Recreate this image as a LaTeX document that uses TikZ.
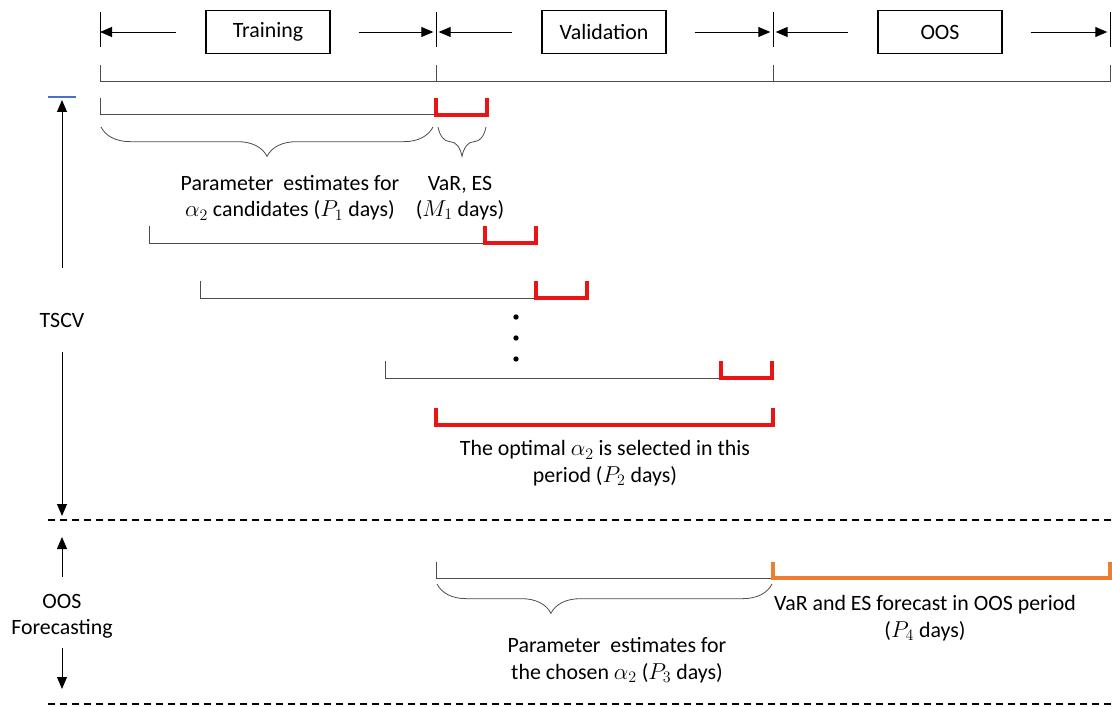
\documentclass[tikz,border=0pt]{standalone}
\usepackage{fontspec}
\setmainfont{Carlito}
\usetikzlibrary{arrows.meta,decorations.pathreplacing}
\definecolor{testred}{RGB}{235,20,20}
\definecolor{oosorange}{RGB}{237,125,49}
\definecolor{markblue}{RGB}{68,114,196}

\begin{document}
\begin{tikzpicture}[x=0.75pt,y=-0.75pt,
    every node/.style={font=\fontsize{16.4}{19.8}\selectfont},
    phase/.style={draw, line width=0.8pt, minimum width=93pt, minimum height=32pt},
    span/.style={-{Triangle[length=9pt,width=7.5pt]}, line width=0.7pt},
    window/.style={line width=0.75pt, black!70},
    test/.style={line width=2.6pt, testred},
    oos/.style={line width=2.6pt, oosorange},
    curly/.style={decorate, decoration={brace, mirror, amplitude=22pt}, line width=0.6pt, black!70},
    cut/.style={line width=1pt, dash pattern=on 5pt off 4pt}]
   \useasboundingbox (0,0) rectangle (1112,706);

   % period boundaries
   \coordinate (b0) at (100,82);
   \coordinate (b1) at (436,82);
   \coordinate (b2) at (773,82);
   \coordinate (b3) at (1110,82);
   \foreach \x in {100,436,773,1110} {
      \draw[line width=0.7pt] (\x,12) -- (\x,47);
      \draw[window] (\x,65) -- (\x,82);
   }
   \draw[window] (b0) -- (b3);

   % header
   \node[phase] (train) at (268,32) {Training};
   \node[phase] (valid) at (604,32) {Validation};
   \node[phase] (oos) at (940,32) {OOS};
   \draw[span] ([xshift=-22pt]train.west) -- (b0 |- train);
   \draw[span] ([xshift=21pt]train.east) -- ([xshift=-2pt]b1 |- train);
   \draw[span] ([xshift=-22pt]valid.west) -- ([xshift=2pt]b1 |- valid);
   \draw[span] ([xshift=21pt]valid.east) -- ([xshift=-2pt]b2 |- valid);
   \draw[span] ([xshift=-22pt]oos.west) -- ([xshift=2pt]b2 |- oos);
   \draw[span] ([xshift=21pt]oos.east) -- ([xshift=-2pt]b3 |- oos);

   % rolling windows
   \foreach \s/\y in {100/115, 149/243, 200/298, 385/378} {
      \draw[window] (\s,\y-17) -- (\s,\y) -- (\s+336,\y);
      \draw[test] (\s+336,\y-17) -- (\s+336,\y) -- (\s+387,\y) -- (\s+387,\y-17);
   }
   \foreach \y in {317,338,359}
      \fill (516,\y) circle (2pt);
   \draw[test] (436,408) -- (436,425) -- (773,425) -- (773,408);

   \draw[curly] (101,127) -- (433,127);
   \draw[curly] (438,127) -- (486,127);
   \node[align=center] (est) at (290,198) {Parameter\ \ estimates for\\$\alpha_2$ candidates ($P_1$ days)};
   \node[align=center] (risk) at (460,198) {VaR, ES\\($M_1$ days)};
   \node[align=center] (opt) at (605,463) {The optimal $\alpha_2$ is selected in this\\period ($P_2$ days)};

   % left side
   \draw[line width=0.8pt, markblue] (48,97) -- (76,97);
   \node (tscv) at (62,320) {TSCV};
   \coordinate (tscvfrom) at (62,268);
   \coordinate (tscvtop) at (62,100);
   \coordinate (tscvto) at (62,352);
   \coordinate (tscvbot) at (62,516);
   \draw[span] (tscvfrom) -- (tscvtop);
   \draw[span] (tscvto) -- (tscvbot);
   \draw[cut] (48,520) -- (1112,520);
   \node[align=center] (fcast) at (62,616) {OOS\\Forecasting};
   \coordinate (fcfrom) at (62,577);
   \coordinate (fctop) at (62,537);
   \coordinate (fcto) at (62,648);
   \coordinate (fcbot) at (62,689);
   \draw[span] (fcfrom) -- (fctop);
   \draw[span] (fcto) -- (fcbot);
   \draw[cut] (48,704) -- (1112,704);

   % out of sample
   \draw[window] (436,562) -- (436,578) -- (773,578);
   \draw[oos] (773,562) -- (773,578) -- (1110,578) -- (1110,562);
   \draw[curly, decoration={aspect=0.34}] (437,584) -- (772,584);
   \node[align=center] (est2) at (617,660) {Parameter\ \ estimates for\\the chosen $\alpha_2$ ($P_3$ days)};
   \node[align=center] (fc) at (925,618) {VaR and ES forecast in OOS period\\($P_4$ days)};
\end{tikzpicture}
\end{document}
